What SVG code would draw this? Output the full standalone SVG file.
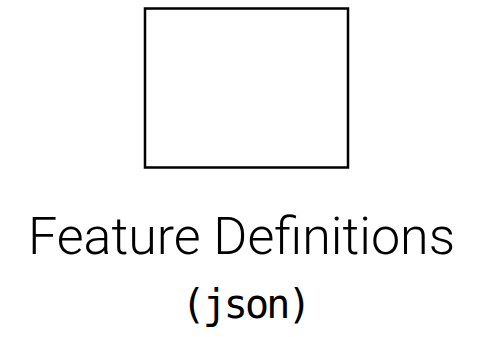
<svg xmlns="http://www.w3.org/2000/svg" width="480" height="337" viewBox="0 0 480 337">
<style>
.box{fill:#fff;stroke:#000;stroke-width:2.5}
.title{font-family:Roboto,"Liberation Sans",sans-serif;font-weight:300;font-size:52px;fill:#000;text-anchor:middle}
.mono{font-family:"DejaVu Sans Mono","Liberation Mono",monospace;font-size:40px;fill:#000;text-anchor:middle}
</style>
<rect width="480" height="337" fill="#fff"/>
<g id="feature-definitions">
<rect class="box" x="145" y="8.5" width="203" height="159"/>
<text class="title" x="241.5" y="254">Feature Definitions</text>
<text class="mono" x="246.5" y="318" textLength="130" lengthAdjust="spacing">(json)</text>
</g>
</svg>
